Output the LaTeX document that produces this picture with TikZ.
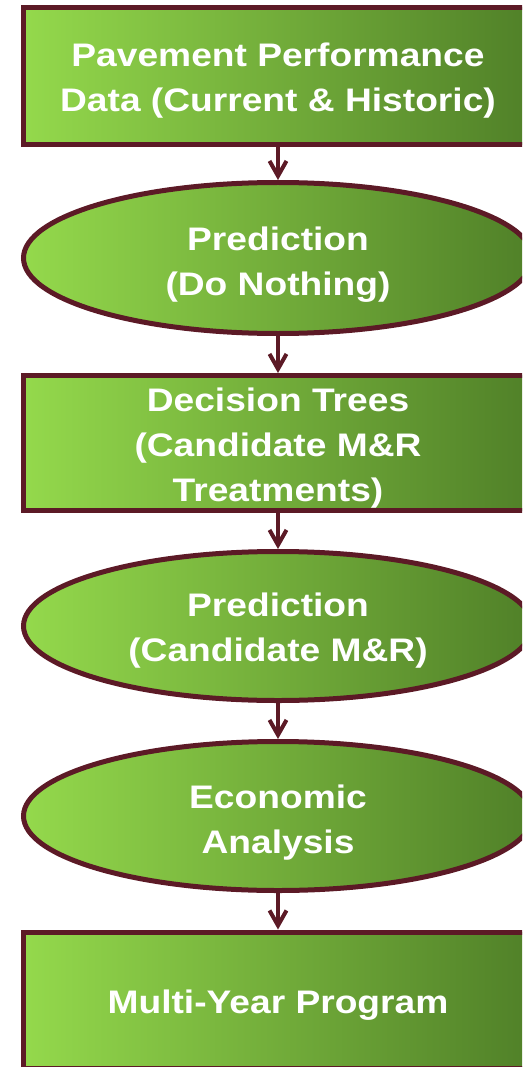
\documentclass[tikz,border=0pt]{standalone}
\usepackage{fontspec}
\setmainfont[FakeStretch=1.14]{Liberation Sans}
\usetikzlibrary{shapes.geometric,arrows.meta}
\definecolor{bordc}{RGB}{92,26,38}
\definecolor{gleft}{RGB}{148,217,76}
\definecolor{gmid}{RGB}{121,178,59}
\definecolor{gright}{RGB}{80,128,40}
\tikzset{
  shapebase/.style={draw=bordc, line width=5pt, left color=gleft, middle color=gmid, right color=gright, inner sep=0pt, outer sep=2.5pt},
  boxnode/.style={shapebase, rectangle, minimum width=510pt},
  ellnode/.style={shapebase, ellipse, minimum width=509pt},
  lbl/.style={text=white, align=center, inner sep=0pt, font=\bfseries\fontsize{32.6}{45}\selectfont},
  arr/.style={draw=bordc, line width=4pt, -{Straight Barb[length=15pt,width=17pt]}}
}
\begin{document}
\begin{tikzpicture}[x=1pt,y=-1pt]
\useasboundingbox (0,0) rectangle (522,1067);
\clip (0,0) rectangle (522,1067);
\node[boxnode, minimum height=137pt] (b1) at (278,76.5) {};
\node[ellnode, minimum height=151pt] (e1) at (278,258) {};
\node[boxnode, minimum height=135pt] (b2) at (278,443) {};
\node[ellnode, minimum height=149pt] (e2) at (278,626) {};
\node[ellnode, minimum height=149pt] (e3) at (278,816) {};
\node[boxnode, minimum height=136pt] (b3) at (278,1000) {};
\node[lbl] (t1) at (278,80.7) {Pavement Performance\\Data (Current \& Historic)};
\node[lbl] (t2) at (278,264.5) {Prediction\\(Do Nothing)};
\node[lbl] (t3) at (278,448.2) {Decision Trees\\(Candidate M\&R\\Treatments)};
\node[lbl] (t4) at (278,630.2) {Prediction\\(Candidate M\&R)};
\node[lbl] (t5) at (278,822.5) {Economic\\Analysis};
\node[lbl] (t6) at (278,1005.5) {Multi-Year Program};
\draw[arr] (b1.south) -- (e1.north);
\draw[arr] (e1.south) -- (b2.north);
\draw[arr] (b2.south) -- (e2.north);
\draw[arr] (e2.south) -- (e3.north);
\draw[arr] (e3.south) -- (b3.north);
\end{tikzpicture}
\end{document}
